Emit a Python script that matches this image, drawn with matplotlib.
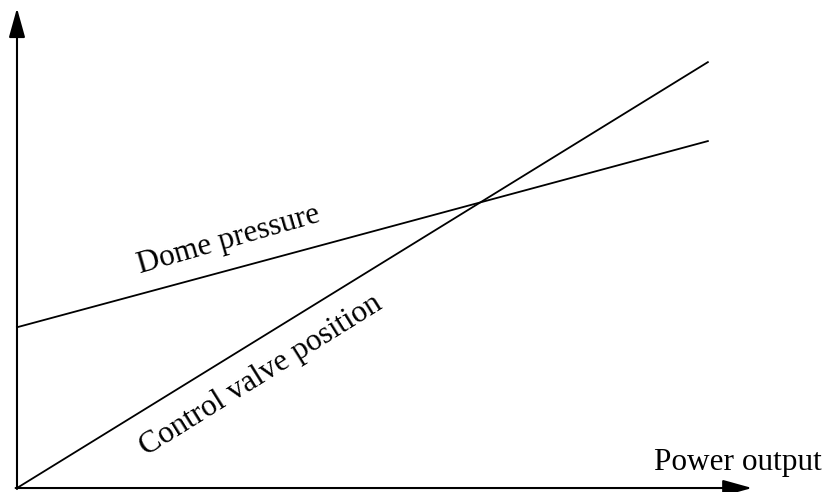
import matplotlib.pyplot as plt

# schematic values (arbitrary units)
power = [0, 10]
valve_position = [0, 8.875]
dome_pressure = [3.35, 7.23]

fig = plt.figure(figsize=(8.26, 4.92), dpi=100)
ax = fig.add_axes([0, 0, 1, 1])
ax.set_xlim(-0.246, 11.71)
ax.set_ylim(-0.083, 10.17)
ax.axis('off')

ax.plot(power, valve_position, color='black', lw=1.3)
ax.plot(power, dome_pressure, color='black', lw=1.3)

arrow = dict(arrowstyle='-|>,head_length=1.8,head_width=0.5', mutation_scale=10,
             color='black', lw=1.5, shrinkA=0, shrinkB=0)
ax.annotate('', xy=(0, 10.0), xytext=(0, -0.02), arrowprops=arrow)
ax.annotate('', xy=(10.64, 0), xytext=(-0.02, 0), arrowprops=arrow)

font = dict(family='Liberation Serif', fontsize=22.5, color='black')
ax.text(3.07, 5.17, 'Dome pressure', rotation=16, ha='center', va='center',
        rotation_mode='anchor', **font)
ax.text(3.53, 2.35, 'Control valve position', rotation=32, ha='center', va='center',
        rotation_mode='anchor', **font)
ax.text(11.65, 0.375, 'Power output', ha='right', va='baseline', **font)

fig.savefig('out.png', dpi=100)
